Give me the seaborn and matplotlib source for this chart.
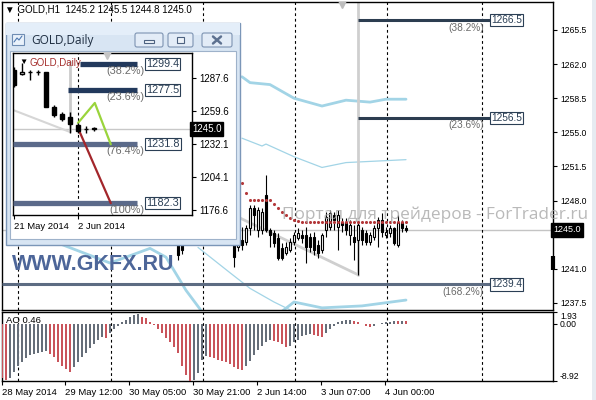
import matplotlib
matplotlib.use("Agg")
import matplotlib.pyplot as plt
import seaborn as sns
from matplotlib.patches import Rectangle, FancyBboxPatch
from matplotlib.transforms import blended_transform_factory as blend

# ---------------- data: GOLD H1 (main chart) ----------------
h1_bar = [44, 45] + list(range(58, 102))
h1_open = [1243.8, 1243.8,
           1243.7, 1243.2, 1244.0, 1243.8, 1245.2, 1247.2, 1245.0, 1245.0, 1248.6, 1245.0,
           1244.7, 1244.2, 1243.1, 1242.6, 1242.9, 1243.8, 1244.2, 1244.5, 1244.5, 1244.3,
           1244.3, 1243.4, 1242.9, 1245.0, 1245.3, 1246.5, 1245.3, 1245.8, 1245.8, 1244.5,
           1244.3, 1244.0, 1245.0, 1244.7, 1243.8, 1244.3, 1245.2, 1246.0, 1244.5, 1244.7,
           1245.2, 1243.4, 1245.7, 1245.2]
h1_high = [1244.2, 1244.0,
           1244.3, 1245.4, 1245.3, 1245.5, 1247.6, 1247.5, 1247.3, 1247.2, 1250.6, 1245.2,
           1245.0, 1244.7, 1243.7, 1243.8, 1244.2, 1244.8, 1245.2, 1245.0, 1245.3, 1244.7,
           1244.8, 1244.0, 1244.7, 1246.8, 1247.0, 1246.8, 1247.0, 1246.2, 1246.2, 1246.0,
           1245.5, 1245.8, 1245.3, 1245.0, 1244.8, 1245.5, 1246.3, 1246.7, 1245.3, 1245.5,
           1245.3, 1246.5, 1246.0, 1245.5]
h1_low = [1241.9, 1242.5,
          1241.2, 1242.8, 1242.9, 1243.4, 1244.5, 1245.0, 1244.3, 1244.6, 1244.8, 1243.2,
          1243.2, 1241.9, 1241.9, 1242.4, 1242.7, 1243.4, 1244.0, 1243.7, 1241.6, 1242.7,
          1242.4, 1242.1, 1242.6, 1244.3, 1245.0, 1245.0, 1242.9, 1244.8, 1244.5, 1243.4,
          1241.9, 1240.4, 1243.4, 1243.4, 1243.4, 1244.0, 1243.2, 1244.3, 1244.2, 1244.3,
          1243.4, 1243.2, 1244.8, 1244.8]
h1_close = [1242.4, 1242.9,
            1242.2, 1245.0, 1243.4, 1245.2, 1247.2, 1246.5, 1247.0, 1246.8, 1245.0, 1244.5,
            1243.7, 1242.1, 1242.1, 1243.2, 1243.8, 1244.5, 1244.7, 1244.2, 1243.2, 1243.2,
            1242.9, 1242.6, 1244.5, 1246.3, 1246.7, 1246.0, 1246.5, 1245.5, 1245.0, 1245.5,
            1243.8, 1245.5, 1244.0, 1243.8, 1244.5, 1245.2, 1246.0, 1244.8, 1244.8, 1245.2,
            1243.7, 1245.8, 1245.2, 1245.0]

sar_bar = list(range(60, 102))
sar_val = [1249.8, 1248.8, 1248.1, 1248.1, 1248.1, 1248.1, 1248.1, 1248.1, 1247.7, 1247.2,
           1246.8, 1246.5, 1246.2, 1246.0, 1245.9, 1245.8, 1245.8, 1245.8, 1245.8, 1245.8,
           1245.8, 1245.8, 1245.8, 1245.8, 1245.8, 1245.8, 1245.8, 1245.8, 1245.8, 1245.8,
           1245.8, 1245.8, 1245.8, 1245.8, 1245.8, 1245.8, 1245.8, 1245.8, 1245.8, 1245.8,
           1245.8, 1245.8]

bb_up_bar = [60, 62, 67, 73, 80, 86, 92, 96, 101]
bb_up_val = [1260.7, 1260.1, 1259.9, 1258.5, 1257.7, 1258.3, 1258.1, 1258.4, 1258.4]
bb_mid_bar = [60, 65, 66, 73, 80, 86, 101]
bb_mid_val = [1254.4, 1253.6, 1253.8, 1252.5, 1251.4, 1251.9, 1252.2]
bb_low_bar = [13, 27, 31, 37, 41, 46, 50, 55, 62, 68, 73, 80, 90, 101]
bb_low_val = [1243.8, 1241.6, 1242.2, 1243.1, 1242.2, 1238.8, 1236.6, 1235.0, 1234.6,
              1236.0, 1237.6, 1237.0, 1237.2, 1237.8]
env_bar = [49, 57, 62, 68, 73]
env_val = [1243.2, 1240.6, 1239.0, 1237.6, 1236.6]

trend_bar = [55, 89]
trend_val = [1247.1, 1240.4]
anchor_bar = 89

fib_levels = [1266.5, 1256.5, 1239.4]
fib_pct = ["(38.2%)", "(23.6%)", "(168.2%)"]
fib_start = [89, 89, 0]
fib_end = 122
fib_colors = ["#2c3d50", "#2c3d50", "#5d6c82"]

price_ticks = [1265.5, 1262.0, 1258.5, 1255.0, 1251.5, 1248.0, 1241.0, 1237.5]
bid = 1245.0
y_range = (1236.78, 1268.37)
x_range = (0, 137.75)
grid_bars = [4, 27.25, 50.25, 73.25, 96.25, 120]

# ---------------- data: Awesome Oscillator ----------------
ao_val = [-8.5, -8.8, -8.4, -7.5, -6.6, -5.9, -5.3, -4.9, -4.7, -4.5,
          -4.3, -4.2, -4.7, -5.2, -5.9, -6.5, -7.0, -7.5, -6.7, -5.9,
          -5.2, -4.5, -3.8, -3.1, -2.5, -2.0, -2.1, -1.4, -0.8, -0.3,
          0.3, 0.7, 1.1, 1.5, 1.55, 1.1, 0.95, 0.4, -0.1, -0.8,
          -1.4, -2.2, -2.8, -3.6, -4.5, -6.5, -7.9, -8.92, -8.8, -7.6,
          -5.6, -5.0, -5.2, -5.3, -5.6, -5.8, -5.9, -6.3, -6.7, -7.0,
          -7.2, -6.6, -5.8, -4.9, -4.1, -3.4, -2.8, -2.5, -2.6, -2.8,
          -3.1, -3.5, -3.4, -2.8, -2.4, -1.9, -1.7, -1.6, -1.7, -1.9,
          -2.0, -1.3, -0.7, -0.2, 0.3, 0.5, 0.6, 0.7, 0.5, 0.3,
          0.1, -0.3, -0.5, -0.2, 0.1, 0.2, 0.3, 0.4, 0.5, 0.45,
          0.5, 0.46]
ao_bar = list(range(len(ao_val)))
ao_range = (-8.92, 1.93)
time_ticks = [0, 15.75, 31.75, 47.75, 63.75, 79.75, 95.75]
time_labels = ["28 May 2014", "29 May 12:00", "30 May 05:00", "30 May 21:00",
               "2 Jun 14:00", "3 Jun 07:00", "4 Jun 00:00"]

# ---------------- data: GOLD Daily (inset) ----------------
d_bar = list(range(11))
d_open = [1294.3, 1291.0, 1292.6, 1292.5, 1292.5, 1263.0, 1257.3, 1254.8, 1248.1, 1244.8, 1244.9]
d_high = [1297.0, 1300.0, 1294.3, 1294.0, 1293.0, 1264.5, 1259.0, 1259.0, 1250.0, 1247.0, 1246.0]
d_low = [1280.0, 1290.0, 1286.0, 1290.0, 1263.0, 1255.0, 1251.5, 1241.5, 1241.5, 1241.5, 1243.0]
d_close = [1281.7, 1292.6, 1292.4, 1292.3, 1263.5, 1256.5, 1253.0, 1248.9, 1243.0, 1244.6, 1245.0]
d_fib_levels = [1299.4, 1277.5, 1231.8, 1182.3]
d_fib_pct = ["(38.2%)", "(23.6%)", "(76.4%)", "(100%)"]
d_fib_start = [8.25, 6.75, -0.125, -0.125]
d_fib_end = 15.4
d_fib_colors = ["#22395c", "#22395c", "#5b6a8a", "#5b6a8a"]
d_green_bar = [8, 10.1, 12.1]
d_green_val = [1249.8, 1266.6, 1231.8]
d_red_bar = [8, 12.1]
d_red_val = [1245.5, 1182.3]
d_trend_bar = [-0.125, 7]
d_trend_val = [1260.7, 1242.2]
d_anchor = (7, 1242.2, 1302.0)
d_ticks = [1287.6, 1259.6, 1232.1, 1204.1, 1176.6]
d_time_ticks = [0, 8]
d_time_labels = ["21 May 2014", "2 Jun 2014"]
d_y_range = (1172.4, 1308.6)
d_x_range = (-0.125, 22.25)

# ---------------- styling ----------------
sns.set_style("white")
plt.rcParams["font.family"] = ["Liberation Sans", "DejaVu Sans"]

W, H = 596, 400
fig = plt.figure(figsize=(W / 100, H / 100), dpi=100)


def frect(x0, y0, x1, y1):
    return [x0 / W, 1 - y1 / H, (x1 - x0) / W, (y1 - y0) / H]


def candles(a, xs, o, h, l, c, width, lw, minh):
    a.vlines(xs, l, h, color="black", lw=lw, zorder=4)
    bottoms = [min(oo, cc) for oo, cc in zip(o, c)]
    heights = [max(abs(cc - oo), minh) for oo, cc in zip(o, c)]
    fcs = ["black" if cc < oo else "white" for oo, cc in zip(o, c)]
    a.bar(xs, heights, width=width, bottom=bottoms, color=fcs,
          edgecolor="black", linewidth=lw, zorder=5)


def frame(a):
    for s in a.spines.values():
        s.set_visible(True)
        s.set_color("black")
        s.set_linewidth(1.0)


# ---------------- main H1 axes ----------------
ax = fig.add_axes(frect(2, 2, 553, 310))
ax.set_xlim(*x_range)
ax.set_ylim(*y_range)
frame(ax)
for g in grid_bars:
    ax.axvline(g, color="black", lw=0.8, ls=(0, (2.5, 2.5)), zorder=2)
ax.axhline(bid, color="#c4c4c4", lw=1, zorder=1)

sns.lineplot(x=bb_up_bar, y=bb_up_val, ax=ax, color="#a2d4e6", lw=2, sort=False, zorder=2)
sns.lineplot(x=bb_mid_bar, y=bb_mid_val, ax=ax, color="#a2d4e6", lw=0.9, sort=False, zorder=2)
sns.lineplot(x=bb_low_bar, y=bb_low_val, ax=ax, color="#a2d4e6", lw=2, sort=False, zorder=2)
sns.lineplot(x=env_bar, y=env_val, ax=ax, color="#a2d4e6", lw=0.9, sort=False, zorder=2)

sns.lineplot(x=trend_bar, y=trend_val, ax=ax, color="#cfcfcf", lw=2, sort=False, zorder=2)
ax.axvline(anchor_bar, ymin=(trend_val[-1] - y_range[0]) / (y_range[1] - y_range[0]),
           ymax=1, color="#cfcfcf", lw=2, zorder=2)
ax.plot([85], [y_range[1]], marker="v", color="#bdbdbd", ms=8, zorder=3)

for lev, pct, st, col in zip(fib_levels, fib_pct, fib_start, fib_colors):
    ax.hlines(lev, st, fib_end, color=col, lw=2.2, zorder=3)
    ax.text(fib_end + 0.2, lev, f"{lev:.1f}", ha="left", va="center", fontsize=7.3,
            color="#2b3f55", zorder=6,
            bbox=dict(boxstyle="square,pad=0.12", fc="white", ec="#2b3f55", lw=0.8))
    ax.text(fib_end - 1.6, lev - 0.25, pct, ha="right", va="top", fontsize=7.3,
            color="#6a6a6a", zorder=6)

candles(ax, h1_bar, h1_open, h1_high, h1_low, h1_close, 0.6, 0.8, 0.06)
sns.scatterplot(x=sar_bar, y=sar_val, ax=ax, color="#b3383a", s=5, linewidth=0, zorder=6)

ax.yaxis.tick_right()
ax.set_yticks(price_ticks)
ax.set_yticklabels([f"{p:.1f}" for p in price_ticks])
ax.set_xticks([])
ax.tick_params(axis="y", which="both", right=True, direction="out", length=3, width=0.8,
               pad=2, labelsize=6.2, colors="black")
ax.set_xlabel("")
ax.set_ylabel("")
ax.text(1.0, bid, f"{bid:.1f}", transform=blend(ax.transAxes, ax.transData), ha="left",
        va="center", fontsize=6.5, color="white", zorder=8, clip_on=False,
        bbox=dict(boxstyle="square,pad=0.25", fc="black", ec="black"))
ax.vlines([x_range[1]], 1240.9, 1242.3, color="black", lw=3, clip_on=False, zorder=7)

# ---------------- AO axes ----------------
axo = fig.add_axes(frect(2, 312, 553, 381))
axo.set_xlim(*x_range)
axo.set_ylim(*ao_range)
frame(axo)
for g in grid_bars:
    axo.axvline(g, color="black", lw=0.8, ls=(0, (2.5, 2.5)), zorder=2)
ao_colors = ["#c9545b"] + ["#666e79" if ao_val[i] > ao_val[i - 1] else "#c9545b"
                           for i in range(1, len(ao_val))]
axo.bar(ao_bar, ao_val, width=0.3, color=ao_colors, linewidth=0, zorder=3)
axo.yaxis.tick_right()
axo.set_yticks([ao_range[1], 0.0, ao_range[0]])
axo.set_yticklabels([f"{ao_range[1]:.2f}", "0.00", f"{ao_range[0]:.2f}"])
for lab, va in zip(axo.get_yticklabels(), ["top", "center", "bottom"]):
    lab.set_va(va)
axo.set_xticks(time_ticks)
axo.set_xticklabels(time_labels, ha="left")
axo.tick_params(axis="y", right=True, direction="out", length=3, width=0.8, pad=2,
                labelsize=6.2, colors="black")
axo.tick_params(axis="x", bottom=True, direction="out", length=3, width=0.8, pad=2,
                labelsize=6.8, colors="black")
axo.text(0.008, 0.88, f"AO {ao_val[-1]:.2f}", transform=axo.transAxes, fontsize=6.8,
         va="center", ha="left", color="black")

# ---------------- header / watermarks ----------------
fig.text(5 / W, 1 - 9 / H, "\u25bc GOLD,H1  1245.2 1245.5 1244.8 1245.0", fontsize=7,
         va="center", ha="left", color="black", zorder=3)
fig.patches.append(Rectangle((592 / W, 0), 4 / W, 1, transform=fig.transFigure,
                             fc="#e6ebf1", ec="none", zorder=0))

# ---------------- inset window (GOLD,Daily) ----------------
wf = fig.add_axes(frect(5, 22, 240, 245), zorder=5)
wf.set_xlim(5, 240)
wf.set_ylim(245, 22)
wf.axis("off")
wf.add_patch(Rectangle((5.5, 22.5), 234, 222, fc="#d8e5f3", ec="#7b96b8", lw=1, clip_on=False))
wf.add_patch(Rectangle((5.5, 22.5), 234, 12, fc="#e4eef9", ec="none", clip_on=False))
wf.add_patch(Rectangle((10, 51), 226, 188, fc="white", ec="#9eb2ca", lw=0.8, clip_on=False))
# icon
wf.add_patch(Rectangle((12, 34), 12, 11, fc="#eaf2fb", ec="#6f8db3", lw=0.8))
wf.plot([14, 17, 19, 22], [42, 38, 40, 36], color="#4f79b0", lw=0.8)
wf.text(31, 40.5, "GOLD,Daily", fontsize=8.5, family=["Open Sans", "DejaVu Sans"],
        va="center", ha="left", color="#1e2d40")
for x0, x1 in [(135, 163), (168, 193), (202, 232)]:
    wf.add_patch(FancyBboxPatch((x0, 33), x1 - x0, 14,
                                boxstyle="round,pad=0,rounding_size=2",
                                fc="#e3ecf7", ec="#7d93b2", lw=0.8))
wf.add_patch(Rectangle((144, 39.5), 10, 3, fc="#eef3f9", ec="#4d6280", lw=0.8))
wf.add_patch(Rectangle((177, 37), 7, 6, fc="#eef3f9", ec="#4d6280", lw=0.8))
wf.plot([213, 221], [36.5, 43.5], color="#5d7190", lw=1.8)
wf.plot([213, 221], [43.5, 36.5], color="#5d7190", lw=1.8)

wi = fig.add_axes(frect(13, 53, 192, 215), zorder=6)
wi.set_facecolor("white")
wi.set_xlim(*d_x_range)
wi.set_ylim(*d_y_range)
frame(wi)
wi.axhline(bid, color="#c8c8c8", lw=1, zorder=1)
wi.axvline(d_time_ticks[1], color="black", lw=0.8, ls=(0, (2.5, 2.5)), zorder=2)
wi.vlines(d_anchor[0], d_anchor[1], d_anchor[2], color="#cbcbcb", lw=2, zorder=2)
sns.lineplot(x=d_trend_bar, y=d_trend_val, ax=wi, color="#d6d6d6", lw=1.5, sort=False, zorder=2)
for lev, pct, st, col in zip(d_fib_levels, d_fib_pct, d_fib_start, d_fib_colors):
    wi.hlines(lev, st, d_fib_end, color=col, lw=3.8, zorder=3)
    wi.text(d_fib_end + 1.1, lev, f"{lev:.1f}", ha="left", va="center", fontsize=7.8,
            color="#2b3f55", zorder=6, clip_on=False,
            bbox=dict(boxstyle="square,pad=0.1", fc="white", ec="#2b3f55", lw=0.8))
    wi.text(d_fib_end + 0.9, lev - 1.5, pct, ha="right", va="top", fontsize=7.8,
            color="#6a6a6a", zorder=6)
sns.lineplot(x=d_green_bar, y=d_green_val, ax=wi, color="#9ad43c", lw=1.6, sort=False, zorder=4)
sns.lineplot(x=d_red_bar, y=d_red_val, ax=wi, color="#a3262b", lw=1.6, sort=False, zorder=4)
candles(wi, d_bar, d_open, d_high, d_low, d_close, 0.6, 1.0, 0.5)
wi.plot([11.6], [d_y_range[1]], marker="v", color="#c4c4c4", ms=8, zorder=3)
wi.text(0.035, 0.94, "\u25bc", transform=wi.transAxes, fontsize=6, va="center",
        ha="left", color="black", zorder=7)
wi.text(0.09, 0.94, "GOLD,Daily", transform=wi.transAxes, fontsize=7, va="center",
        ha="left", color="#a5302e", zorder=7)
wi.yaxis.tick_right()
wi.set_yticks(d_ticks)
wi.set_yticklabels([f"{p:.1f}" for p in d_ticks])
wi.set_xticks(d_time_ticks)
wi.set_xticklabels(d_time_labels, ha="left")
wi.tick_params(axis="y", right=True, direction="out", length=3, width=0.8, pad=2,
               labelsize=7, colors="black")
wi.tick_params(axis="x", bottom=True, direction="out", length=3, width=0.8, pad=2,
               labelsize=6.8, colors="black")
wi.set_xlabel("")
wi.set_ylabel("")
wi.text(1.0, bid, f"{bid:.1f}", transform=blend(wi.transAxes, wi.transData), ha="left",
        va="center", fontsize=7, color="white", zorder=8, clip_on=False,
        bbox=dict(boxstyle="square,pad=0.2", fc="black", ec="black"))

fig.text(12 / W, 1 - 265 / H, "WWW.GKFX.RU", fontsize=15.5, weight="bold",
         family=["Liberation Sans", "DejaVu Sans"], color="#4d6699", va="center",
         ha="left", zorder=10)
fig.text(282 / W, 1 - 214.5 / H, "Портал для трейдеров - ForTrader.ru", fontsize=12.4,
         family=["Open Sans", "DejaVu Sans"], color="#a8a8a8", alpha=0.8,
         va="center", ha="left", zorder=10)

fig.savefig("out.png", dpi=100)
